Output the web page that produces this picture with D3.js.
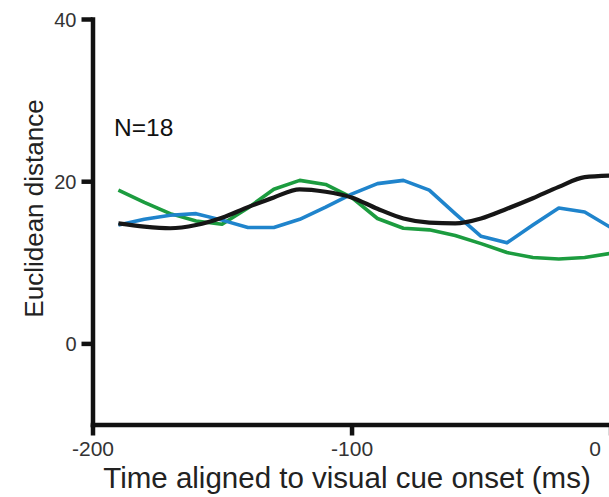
<!DOCTYPE html>
<html>
<head>
<meta charset="utf-8">
<script src="https://cdn.jsdelivr.net/npm/d3@7/dist/d3.min.js"></script>
<style>
  html, body { margin: 0; padding: 0; background: #fff; }
  svg { display: block; }
  text { font-family: "Liberation Sans", Arial, sans-serif; }
</style>
</head>
<body>
<div id="chart"></div>
<script>
// Time points (ms, aligned to visual cue onset)
const times = [-190, -180, -170, -160, -150, -140, -130, -120, -110, -100,
               -90, -80, -70, -60, -50, -40, -30, -20, -10, 0];

// Euclidean distance per condition
const greenSeries = [18.9, 17.4, 16.0, 15.1, 14.7, 16.7, 19.0, 20.1, 19.6, 18.0,
                     15.4, 14.2, 14.0, 13.3, 12.3, 11.2, 10.6, 10.4, 10.6, 11.1];
const blueSeries  = [14.6, 15.3, 15.8, 16.0, 15.2, 14.3, 14.3, 15.3, 16.8, 18.4,
                     19.7, 20.1, 18.9, 16.0, 13.2, 12.4, 14.6, 16.7, 16.2, 14.3];
const blackSeries = [14.8, 14.4, 14.2, 14.6, 15.5, 16.8, 18.0, 19.0, 18.7, 18.0,
                     16.6, 15.4, 14.9, 14.8, 15.4, 16.6, 17.9, 19.3, 20.5, 20.7];

const xTicks = [-200, -100, 0];
const yTicks = [0, 20, 40];
const annotation = "N=18";
const xTitle = "Time aligned to visual cue onset (ms)";
const yTitle = "Euclidean distance";

const W = 609, H = 497;
const svg = d3.select("#chart").append("svg")
  .attr("width", W).attr("height", H);

const x = d3.scaleLinear().domain([-200, 10]).range([92.5, 636.5]);
const y = d3.scaleLinear().domain([-10, 40]).range([424.5, 19]);

// Data lines
const line = d3.line()
  .x((d, i) => x(times[i]))
  .y(d => y(d));

const series = [
  { values: greenSeries, color: "#1c9c3f", width: 3.6, curve: d3.curveLinear },
  { values: blueSeries,  color: "#1f84cc", width: 3.6, curve: d3.curveLinear },
  { values: blackSeries, color: "#161616", width: 4.2, curve: d3.curveMonotoneX }
];

series.forEach(s => {
  svg.append("path")
    .attr("fill", "none")
    .attr("stroke", s.color)
    .attr("stroke-width", s.width)
    .attr("stroke-linejoin", "round")
    .attr("d", line.curve(s.curve)(s.values));
});

// Axes (plain hyphen for negative tick labels)
const axisColor = "#111";
const fmt = d => String(d);
const xAxis = svg.append("g")
  .attr("transform", `translate(0,${y(-10)})`)
  .call(d3.axisBottom(x).tickValues(xTicks).tickSize(11).tickSizeOuter(0).tickFormat(fmt));
const yAxis = svg.append("g")
  .attr("transform", `translate(${x(-200)},0)`)
  .call(d3.axisLeft(y).tickValues(yTicks).tickSize(11).tickSizeOuter(0).tickFormat(fmt));

[xAxis, yAxis].forEach(g => {
  g.select(".domain").attr("stroke", axisColor).attr("stroke-width", 4.5).attr("stroke-linecap", "square");
  g.selectAll(".tick line").attr("stroke", axisColor).attr("stroke-width", 4.5);
  g.selectAll(".tick text").attr("fill", "#333").attr("font-family", "Liberation Sans, Arial, sans-serif");
});

xAxis.selectAll(".tick text")
  .attr("font-size", 21)
  .attr("y", 0)
  .attr("dy", 0)
  .attr("transform", "translate(0,31.5)")
  .attr("text-anchor", "middle");
// the last label sits inside the visible edge
xAxis.selectAll(".tick text").filter(d => d === 0).attr("dx", -16);

yAxis.selectAll(".tick text")
  .attr("font-size", 20)
  .attr("x", -16)
  .attr("dy", "0.36em");

// Titles
svg.append("text")
  .attr("x", 347).attr("y", 488)
  .attr("text-anchor", "middle")
  .attr("font-size", 29.5)
  .attr("fill", "#222")
  .text(xTitle);

svg.append("text")
  .attr("transform", "translate(43,208.5) rotate(-90)")
  .attr("text-anchor", "middle")
  .attr("font-size", 26)
  .attr("fill", "#222")
  .text(yTitle);

svg.append("text")
  .attr("x", 114).attr("y", 136)
  .attr("font-size", 24.5)
  .attr("fill", "#111")
  .text(annotation);
</script>
</body>
</html>
